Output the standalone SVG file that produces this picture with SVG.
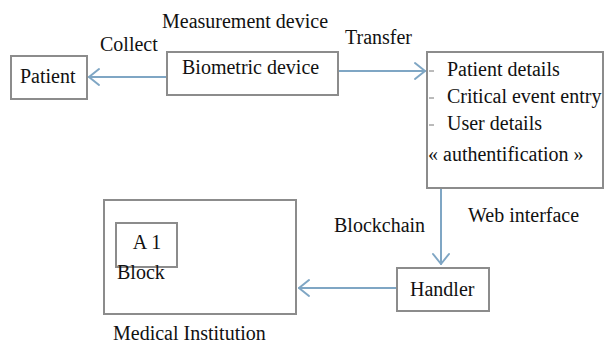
<svg xmlns="http://www.w3.org/2000/svg" width="610" height="347" viewBox="0 0 610 347">
  <rect width="610" height="347" fill="#ffffff"/>

  <!-- connectors: shafts plus open arrowheads -->
  <g id="connectors" stroke="#7fa6c4" stroke-width="2" fill="none" stroke-linecap="round" stroke-linejoin="round">
    <line x1="166" y1="77" x2="89" y2="77"/>
    <polyline points="99,69 89,77 99,85"/>
    <line x1="338" y1="71" x2="425" y2="71"/>
    <polyline points="415,63 425,71 415,79"/>
    <line x1="441" y1="189" x2="441" y2="264"/>
    <polyline points="433,254 441,264 449,254"/>
    <line x1="397" y1="288" x2="299" y2="288"/>
    <polyline points="309,280 299,288 309,296"/>
  </g>

  <!-- free labels -->
  <g id="labels" font-size="20" fill="#111111">
    <text x="162" y="28" font-family="Liberation Serif">Measurement device</text>
    <text x="100" y="51" font-family="Liberation Serif">Collect</text>
    <text x="345" y="44" font-family="Liberation Serif">Transfer</text>
    <text x="334" y="232" font-family="Liberation Serif">Blockchain</text>
    <text x="468" y="222" font-family="Liberation Serif">Web interface</text>
  </g>

  <g id="patient" font-size="20" fill="#111111">
    <rect x="11" y="56" width="76" height="43" fill="#ffffff" stroke="#8c8c8c" stroke-width="2"/>
    <text x="20" y="83" font-family="Liberation Serif">Patient</text>
  </g>

  <g id="biometric-device" font-size="20" fill="#111111">
    <rect x="167" y="52" width="171" height="43" fill="#ffffff" stroke="#8c8c8c" stroke-width="2"/>
    <text x="182" y="74" font-family="Liberation Serif">Biometric device</text>
  </g>

  <g id="web-interface" font-size="20" fill="#111111">
    <rect x="427" y="52" width="176" height="136" fill="#ffffff" stroke="#8c8c8c" stroke-width="2"/>
    <g stroke="#777777" stroke-width="1">
      <line x1="429" y1="71" x2="434" y2="71"/>
      <line x1="429" y1="98" x2="434" y2="98"/>
      <line x1="429" y1="125" x2="434" y2="125"/>
    </g>
    <text x="447" y="76" font-family="Liberation Serif">Patient details</text>
    <text x="447" y="103" font-family="Liberation Serif">Critical event entry</text>
    <text x="447" y="130" font-family="Liberation Serif">User details</text>
    <text x="428" y="161" font-family="Liberation Serif">« authentification »</text>
  </g>

  <g id="handler" font-size="20" fill="#111111">
    <rect x="397" y="268" width="92" height="43" fill="#ffffff" stroke="#8c8c8c" stroke-width="2"/>
    <text x="410" y="296" font-family="Liberation Serif">Handler</text>
  </g>

  <g id="medical-institution" font-size="20" fill="#111111">
    <rect x="104" y="200" width="192" height="114" fill="#ffffff" stroke="#8c8c8c" stroke-width="2"/>
    <text x="113" y="340" font-family="Liberation Serif">Medical Institution</text>
  </g>

  <g id="block-a1" font-size="20" fill="#111111">
    <rect x="116" y="223" width="61" height="44" fill="#ffffff" stroke="#8c8c8c" stroke-width="2"/>
    <text x="147" y="249" text-anchor="middle" font-family="Liberation Serif">A 1</text>
    <text x="117" y="279" font-family="Liberation Serif">Block</text>
  </g>
</svg>
